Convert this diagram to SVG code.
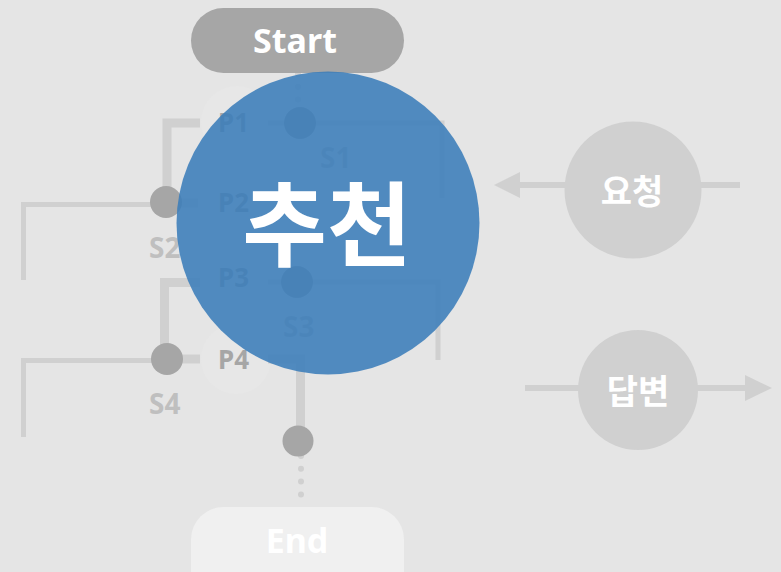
<svg xmlns="http://www.w3.org/2000/svg" width="781" height="572" viewBox="0 0 781 572">
<style>
.ln{fill:none;stroke:#d0d0d0;stroke-linecap:butt;stroke-linejoin:miter}
.thick{stroke-width:9}
.thin{stroke-width:5}
.dots{fill:none;stroke:#d0d0d0;stroke-width:6;stroke-linecap:round;stroke-dasharray:0 12.8}
.dot{fill:#a6a6a6}
.halo{fill:#e7e7e7}
.pl{font-family:"Noto Sans","Open Sans","Liberation Sans",sans-serif;font-weight:bold;font-size:26px;fill:#a6a6a6}
.sl{font-family:"Noto Sans","Open Sans","Liberation Sans",sans-serif;font-weight:bold;font-size:28px;fill:#bfbfbf}
.pill{font-family:"Noto Sans","Open Sans","Liberation Sans",sans-serif;font-weight:bold;font-size:34px;fill:#ffffff;text-anchor:middle}
.kr{font-family:"Noto Sans CJK KR","Noto Sans",sans-serif;font-weight:bold;fill:#ffffff;text-anchor:middle}
.gc{fill:#d0d0d0}
</style>
<rect width="781" height="572" fill="#e5e5e5"/>

<g id="halos">
<circle class="halo" cx="237" cy="122" r="36"/>
<circle class="halo" cx="236" cy="359" r="35"/>
</g>

<g id="connectors">
<path class="dots" d="M298 74 V108"/>
<path class="ln thin" d="M268 123 H442 V198"/>
<path class="ln thick" d="M200 123 H167 V190"/>
<path class="ln thick" d="M170 203 H198"/>
<path class="ln thin" d="M166 204.5 H23.5 V280"/>
<path class="ln thin" d="M268 282 H438 V360"/>
<path class="ln thick" d="M200 282.5 H164.5 V348"/>
<path class="ln thick" d="M170 359 H200"/>
<path class="ln thin" d="M166 360.5 H23.5 V437"/>
<path class="ln thick" d="M268 359 H300.5 V430"/>
<path class="dots" d="M301 456 V507"/>
<path class="ln" stroke-width="6" d="M520 185 H566"/>
<path class="ln" stroke-width="6" d="M700 185 H740"/>
<polygon fill="#d0d0d0" points="494,185 520,172 520,198"/>
<path class="ln" stroke-width="6" d="M525 388 H580"/>
<path class="ln" stroke-width="6" d="M696 388 H746"/>
<polygon fill="#d0d0d0" points="772,388 745,375 745,401"/>
</g>

<g id="start">
<rect x="191" y="8" width="213" height="65" rx="32.5" fill="#a6a6a6"/>
<text class="pill" x="295" y="53">Start</text>
</g>

<g id="end">
<rect x="191" y="507" width="213" height="100" rx="32.5" fill="#f0f0f0"/>
<text class="pill" x="297" y="553">End</text>
</g>

<g id="p1"><circle class="dot" cx="300" cy="123" r="16"/><text class="pl" x="218" y="132">P1</text></g>
<g id="s1"><text class="sl" x="320" y="168">S1</text></g>
<g id="s2"><circle class="dot" cx="166" cy="202" r="16"/><text class="sl" x="149" y="258">S2</text></g>
<g id="p2"><text class="pl" x="218" y="212">P2</text></g>
<g id="p3"><circle class="dot" cx="297" cy="282" r="16"/><text class="pl" x="218" y="287">P3</text></g>
<g id="s3"><text class="sl" x="283" y="337">S3</text></g>
<g id="s4"><circle class="dot" cx="167" cy="359" r="16"/><text class="sl" x="149" y="414">S4</text></g>
<g id="p4"><text class="pl" x="218" y="369">P4</text></g>
<g id="end-dot"><circle class="dot" cx="298" cy="441" r="15.5"/></g>

<g id="recommend">
<circle cx="328" cy="223" r="151.5" fill="#3b7dba" fill-opacity="0.88"/>
<text class="kr" x="327" y="259" font-size="92">추천</text>
</g>

<g id="request">
<circle class="gc" cx="633" cy="190" r="68.5"/>
<text class="kr" x="632" y="204" font-size="34">요청</text>
</g>

<g id="response">
<circle class="gc" cx="638" cy="390" r="60"/>
<text class="kr" x="638" y="404" font-size="34">답변</text>
</g>
</svg>
